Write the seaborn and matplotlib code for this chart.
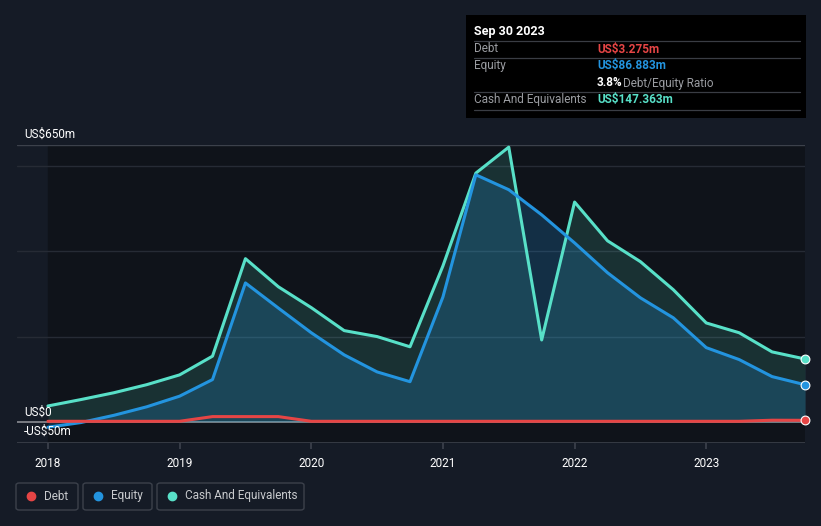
import numpy as np
import pandas as pd
import matplotlib.pyplot as plt
import seaborn as sns
from matplotlib.patches import FancyBboxPatch, Rectangle
from matplotlib.lines import Line2D

# quarterly values, US$ millions
quarters = [2018.0, 2018.25, 2018.5, 2018.75, 2019.0, 2019.25, 2019.5, 2019.75,
            2020.0, 2020.25, 2020.5, 2020.75, 2021.0, 2021.25, 2021.5, 2021.75,
            2022.0, 2022.25, 2022.5, 2022.75, 2023.0, 2023.25, 2023.5, 2023.75]
debt = [1, 1, 1, 1, 1, 12, 12, 12,
        1, 1, 1, 1, 1, 1, 1, 1,
        1, 1, 1, 1, 1, 1, 3.5, 3.275]
equity = [-13, -2, 15, 35, 60, 99, 326, 267,
          209, 157, 117, 94, 293, 580, 545, 486,
          420, 350, 291, 244, 174, 146, 106, 86.883]
cash = [37, 52, 68, 87, 110, 154, 383, 317,
        268, 214, 200, 176, 366, 584, 645, 192,
        516, 425, 376, 310, 232, 209, 164, 147.363]

year_ticks = [2018, 2019, 2020, 2021, 2022, 2023]

C_DEBT = '#e64545'
C_EQ = '#2394df'
C_CASH = '#58e0c8'
BG = '#151b26'

sns.set_theme(style='dark')
plt.rcParams['font.family'] = ['Roboto', 'DejaVu Sans']

df = pd.DataFrame({'quarter': quarters * 3,
                   'value': debt + equity + cash,
                   'series': ['Debt'] * len(quarters) + ['Equity'] * len(quarters)
                             + ['Cash And Equivalents'] * len(quarters)})

fig = plt.figure(figsize=(8.21, 5.26), dpi=100, facecolor=BG)
ax = fig.add_axes([17 / 821, 83 / 526, 788 / 821, 298 / 526])
ax.set_facecolor(BG)

# darker band over the span with data
ax.axvspan(quarters[0], quarters[-1], color='#0f131a', zorder=0)

for v in [200, 400, 600]:
    ax.axhline(v, color='#262b35', lw=1, zorder=1)
ax.axhline(650, color='#3c414b', lw=1, zorder=1)
ax.axhline(-50, color='#3c414b', lw=1.2, zorder=1)
ax.axhline(0, color='#8a8d93', lw=1.2, zorder=2)

ax.fill_between(quarters, cash, 0, color=C_CASH, alpha=0.15, lw=0, zorder=2)
ax.fill_between(quarters, equity, 0, color=C_EQ, alpha=0.22, lw=0, zorder=2)

sns.lineplot(data=df, x='quarter', y='value', hue='series',
             palette={'Debt': C_DEBT, 'Equity': C_EQ, 'Cash And Equivalents': C_CASH},
             hue_order=['Cash And Equivalents', 'Equity', 'Debt'],
             lw=2.2, legend=False, ax=ax, zorder=4, solid_joinstyle='round')

for s, c in [(cash, C_CASH), (equity, C_EQ), (debt, C_DEBT)]:
    ax.scatter([quarters[-1]], [s[-1]], s=40, color=c, edgecolor='white',
               linewidth=0.8, zorder=6, clip_on=False)

ax.set_xlim(2017.765, 2023.75)
ax.set_ylim(-50, 650)
ax.set_xticks(year_ticks)
ax.set_xticklabels([str(y) for y in year_ticks], color='white', fontsize=8.5)
ax.set_yticks([])
ax.tick_params(axis='x', length=4, color='#3c414b', pad=6, bottom=True)
ax.set_xlabel('')
ax.set_ylabel('')
for sp in ax.spines.values():
    sp.set_visible(False)

ax.text(2017.82, 660, 'US$650m', color='white', fontsize=8.5, va='bottom', zorder=10)
ax.text(2017.82, 6, 'US$0', color='white', fontsize=8.5, va='bottom', zorder=10)
ax.text(2017.82, -8, '-US$50m', color='white', fontsize=8.5, va='top', zorder=10)

fx = lambda px: px / 821
fy = lambda py: 1 - py / 526

# tooltip box
fig.patches.append(Rectangle((fx(466), fy(118)), 340 / 821, 103 / 526,
                             transform=fig.transFigure, facecolor='black',
                             edgecolor='none', zorder=0))
fig.text(fx(474), fy(31), 'Sep 30 2023', color='white', fontsize=9,
         fontweight='bold', va='center')
for py in [41, 58, 92, 110]:
    fig.add_artist(Line2D([fx(474), fx(800)], [fy(py), fy(py)], color='#3a3d44', lw=0.9))
rows = [(49, 'Debt', 'US$3.275m', C_DEBT), (66, 'Equity', 'US$86.883m', C_EQ),
        (100, 'Cash And Equivalents', 'US$147.363m', C_CASH)]
for py, lab, val, c in rows:
    fig.text(fx(474), fy(py), lab, color='#9a9ca1', fontsize=8.5, va='center')
    fig.text(fx(597), fy(py), val, color=c, fontsize=8.5, fontweight='semibold', va='center')
fig.text(fx(597), fy(83), '3.8%', color='white', fontsize=8.5, fontweight='semibold', va='center')
fig.text(fx(623), fy(83), 'Debt/Equity Ratio', color='#9a9ca1', fontsize=8.5, va='center')

# legend boxes
legend_items = [('Debt', C_DEBT, 16, 78), ('Equity', C_EQ, 83, 152),
                ('Cash And Equivalents', C_CASH, 157, 304)]
for lab, c, x0, x1 in legend_items:
    fig.patches.append(FancyBboxPatch((fx(x0), fy(510)), (x1 - x0) / 821, 27 / 526,
                                      boxstyle='round,pad=0,rounding_size=0.004',
                                      transform=fig.transFigure, facecolor='none',
                                      edgecolor='#3c414b', lw=1))
    fig.add_artist(Line2D([fx(x0 + 15)], [fy(496)], marker='o', markersize=6,
                          color=c, lw=0))
    fig.text(fx(x0 + 28), fy(496), lab, color='#c8cacd', fontsize=8.5, va='center')

fig.savefig('out.png', dpi=100, facecolor=BG)
